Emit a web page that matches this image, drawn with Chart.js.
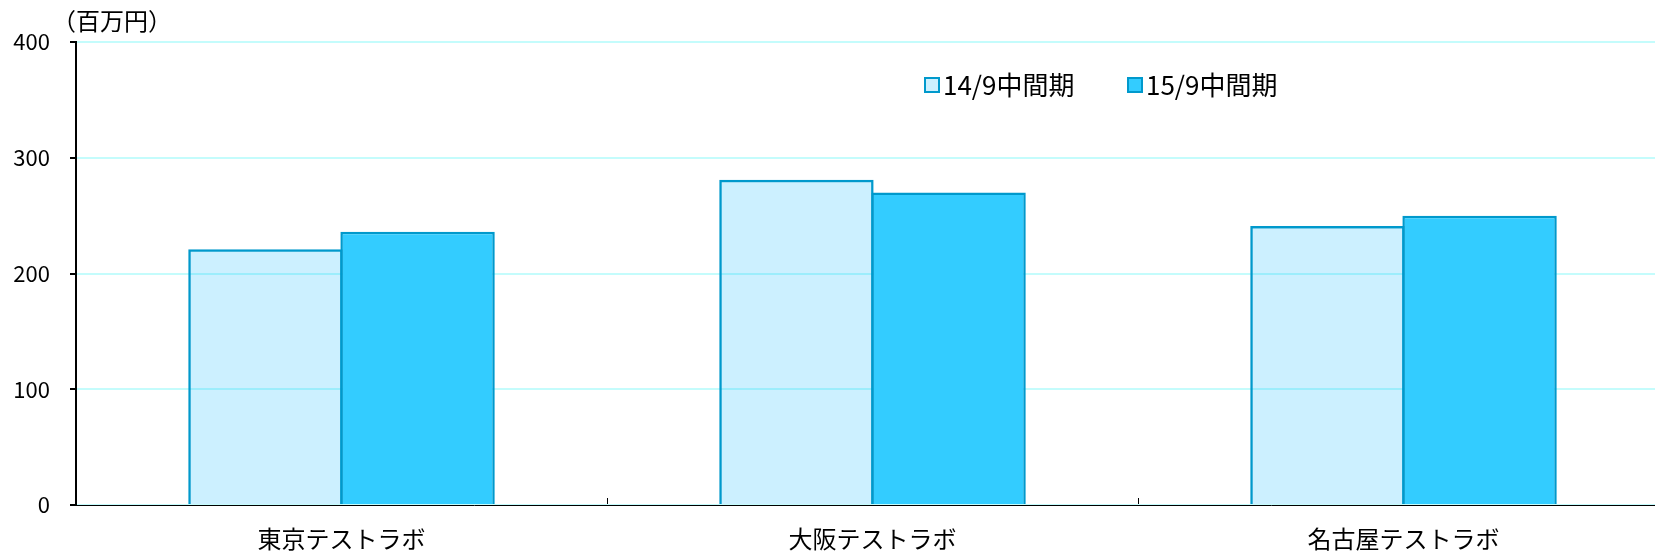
<!DOCTYPE html>
<html>
<head>
<meta charset="utf-8">
<script src="https://cdn.jsdelivr.net/npm/chart.js@4"></script>
<style>
  html, body { margin: 0; padding: 0; background: #fff; overflow: hidden; }
  /* plot runs a little past the right edge of the window, as in the source */
  #wrap { width: 1669px; height: 552px; position: relative; }
</style>
</head>
<body>
<div id="wrap"><canvas id="graph"></canvas></div>
<script>
var categories = ['東京テストラボ', '大阪テストラボ', '名古屋テストラボ'];
var seriesNames = ['14/9中間期', '15/9中間期'];
var values1409 = [221, 281, 241];
var values1509 = [236, 270, 250];
var yTicks = [0, 100, 200, 300, 400];
var unitLabel = '（百万円）';

var FONT = '"Noto Sans CJK JP", "Noto Sans", sans-serif';
var fills = ['rgba(0, 180, 255, 0.2)', '#33ccff'];
var edge = '#0099cc';

// legend drawn inside the plot, plus the unit text above the y axis
var extras = {
    id: 'extras',
    afterDraw: function (chart) {
        var ctx = chart.ctx;
        ctx.save();
        ctx.font = '24px ' + FONT;
        ctx.fillStyle = '#000';
        ctx.textBaseline = 'middle';
        ctx.textAlign = 'left';
        ctx.fillText(unitLabel, 52, 21);

        var startX = [925, 1128];
        ctx.font = '26px ' + FONT;
        chart.data.datasets.forEach(function (ds, i) {
            var x = startX[i];
            ctx.fillStyle = '#fff';
            ctx.fillRect(x, 78, 14, 14);
            ctx.fillStyle = ds.backgroundColor;
            ctx.fillRect(x, 78, 14, 14);
            ctx.strokeStyle = edge;
            ctx.lineWidth = 2;
            ctx.strokeRect(x, 78, 14, 14);
            ctx.fillStyle = '#000';
            ctx.fillText(ds.label, x + 18, 85);
        });
        ctx.restore();
    }
};

var chartCtx = document.getElementById('graph').getContext('2d');

var chart = new Chart(chartCtx, {
    type: 'bar',
    data: {
        labels: categories,
        datasets: [
            {
                label: seriesNames[0],
                data: values1409,
                backgroundColor: fills[0],
                borderColor: edge,
                borderWidth: 2.5
            },
            {
                label: seriesNames[1],
                data: values1509,
                backgroundColor: fills[1],
                borderColor: edge,
                borderWidth: 2.5
            }
        ]
    },
    options: {
        responsive: true,
        maintainAspectRatio: false,
        animation: false,
        datasets: {
            // slight overlap so neighbouring bars share one edge line
            bar: { categoryPercentage: 0.573, barPercentage: 1.015 }
        },
        layout: { padding: { top: 42, left: 0, right: 0, bottom: 0 } },
        plugins: {
            legend: { display: false },
            tooltip: { enabled: false }
        },
        scales: {
            x: {
                grid: {
                    offset: true,
                    drawOnChartArea: false,
                    tickLength: -7,
                    tickColor: '#000',
                    tickWidth: 1
                },
                border: { color: '#000', width: 1 },
                ticks: {
                    color: '#000',
                    font: { family: FONT, size: 24 },
                    padding: 26
                },
                afterFit: function (scale) { scale.height = 47; }
            },
            y: {
                min: 0,
                max: 400,
                afterBuildTicks: function (scale) {
                    scale.ticks = yTicks.map(function (v) { return { value: v }; });
                },
                grid: {
                    color: '#c4fcfc',
                    lineWidth: 2,
                    tickColor: '#000',
                    tickLength: 6,
                    tickWidth: 2
                },
                border: { color: '#000', width: 2 },
                ticks: {
                    color: '#000',
                    crossAlign: 'near',
                    font: { family: FONT, size: 22 },
                    padding: 20
                },
                afterFit: function (scale) { scale.width = 76; }
            }
        }
    },
    plugins: [extras]
});
</script>
</body>
</html>
